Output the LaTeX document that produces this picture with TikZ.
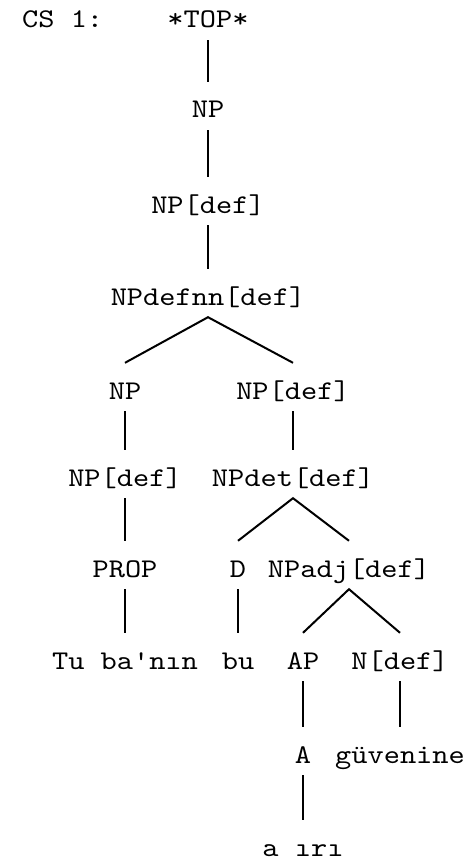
\documentclass[tikz,border=0pt]{standalone}
\usepackage{fontspec}
\setmonofont[FakeStretch=1.143]{lmmono10-regular.otf}

\begin{document}
\begin{tikzpicture}[
  x=1pt, y=-1pt,
  font=\ttfamily\fontsize{27}{32}\selectfont,
  cat/.style={inner sep=0pt, text height=36pt, text depth=12pt, anchor=base},
  branch/.style={draw=black, line width=2pt}
]
\useasboundingbox (0,0) rectangle (466,861);

\node[cat, anchor=base west] (cs) at (22,28) {CS 1:};
\node[cat] (top) at (208,28) {*TOP*};
\node[cat] (np) at (208,118) {NP};
\node[cat] (npdef) at (208,213) {NP[def]};
\node[cat] (npdefnn) at (208,305) {NPdefnn[def]};

\node[cat] (npl) at (125,399) {NP};
\node[cat] (npr) at (293,399) {NP[def]};
\node[cat] (npldef) at (125,486) {NP[def]};
\node[cat] (npdet) at (293,486) {NPdet[def]};
\node[cat] (prop) at (125,577) {PROP};
\node[cat] (det) at (238,577) {D};
\node[cat] (npadj) at (349,577) {NPadj[def]};

\node[cat] (tugba) at (125,669) {Tu ba'nın};
\node[cat] (bu) at (238,669) {bu};
\node[cat] (ap) at (303,669) {AP};
\node[cat] (ndef) at (400,669) {N[def]};
\node[cat] (adj) at (303,763) {A};
\node[cat] (guvenine) at (400,763) {güvenine};
\node[cat] (agiri) at (303,856) {a ırı};

\draw[branch] (top.south) -- (np.north);
\draw[branch] (np.south) -- (npdef.north);
\draw[branch] (npdef.south) -- (npdefnn.north);
\draw[branch] (npl.north) -- (npdefnn.south) -- (npr.north);
\draw[branch] (npl.south) -- (npldef.north);
\draw[branch] (npr.south) -- (npdet.north);
\draw[branch] (npldef.south) -- (prop.north);
\draw[branch] (det.north) -- (npdet.south) -- (npadj.north);
\draw[branch] (prop.south) -- (tugba.north);
\draw[branch] (det.south) -- (bu.north);
\draw[branch] (ap.north) -- (npadj.south) -- (ndef.north);
\draw[branch] (ap.south) -- (adj.north);
\draw[branch] (ndef.south) -- (guvenine.north);
\draw[branch] (adj.south) -- (agiri.north);

\end{tikzpicture}
\end{document}
